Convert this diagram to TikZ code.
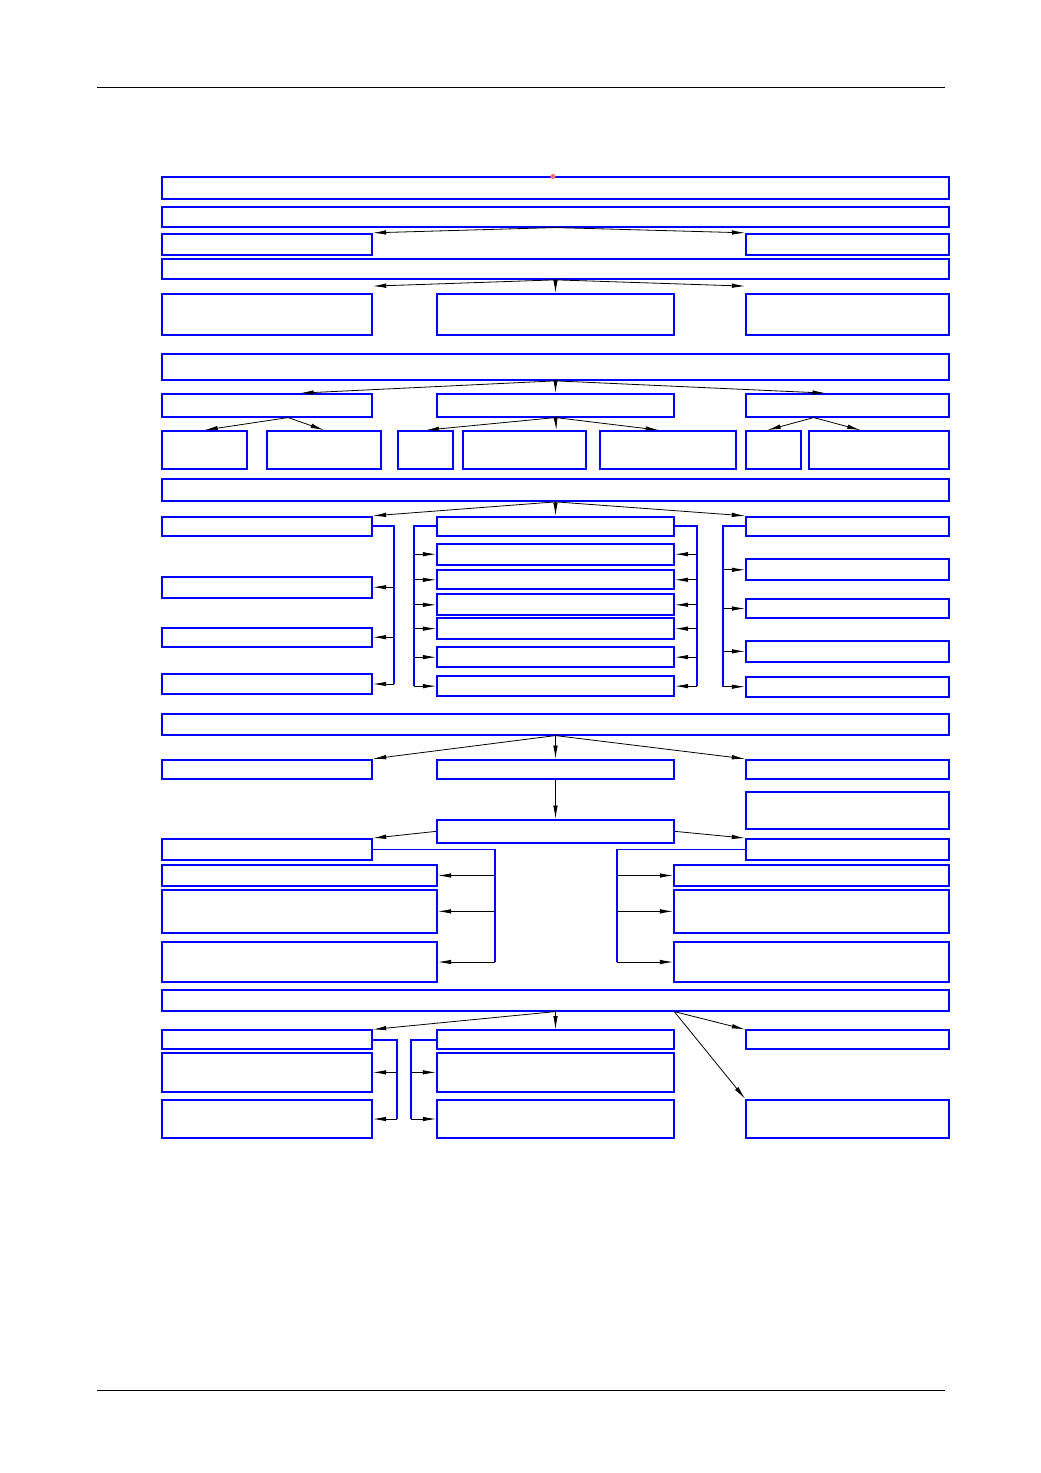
\documentclass[tikz,border=0pt]{standalone}
\usetikzlibrary{arrows.meta,calc,fit}
\begin{document}
\begin{tikzpicture}[x=0.75pt,y=-0.75pt,
  box/.style={draw=blue, line width=1.3pt, inner sep=0pt},
  brk/.style={draw=blue, line width=1.3pt},
  arr/.style={draw=black, line width=0.6pt, -{Latex[length=10pt,width=3.4pt]}},
  rule/.style={draw=black, line width=0.6pt}]
\newcommand\mybox[5]{\node[box, fit={(#2,#3) (#4,#5)}] (#1) {};}
\newcommand\tp[3]{($(#1.north west)!#2!(#1.north east)$)}
\newcommand\bt[3]{($(#1.south west)!#2!(#1.south east)$)}
\useasboundingbox (0,0) rectangle (1040,1473);
% page rules
\coordinate (h1a) at (97,87); \coordinate (h1b) at (945,87);
\coordinate (h2a) at (97,1390); \coordinate (h2b) at (945,1390);
\draw[rule] (h1a) -- (h1b);
\draw[rule] (h2a) -- (h2b);
% boxes
\mybox{r1}{162}{176.7}{949}{198.7}
\mybox{r2}{162}{207}{949}{226.7}
\mybox{r3l}{162}{233.7}{372}{254.7}
\mybox{r3r}{746}{233.7}{949}{254.7}
\mybox{r4}{162}{258.7}{949}{279}
\mybox{r5l}{162}{294}{372}{334.7}
\mybox{r5m}{437}{294}{674}{334.7}
\mybox{r5r}{746}{294}{949}{334.7}
\mybox{r6}{162}{354}{949}{380}
\mybox{r7l}{162}{394}{372}{416.7}
\mybox{r7m}{437}{394}{674}{416.7}
\mybox{r7r}{746}{394}{949}{416.7}
\mybox{r8a}{162}{431}{246.7}{469}
\mybox{r8b}{267.3}{431}{380.7}{469}
\mybox{r8c}{398.3}{431}{453.3}{469}
\mybox{r8d}{463.3}{431}{585.7}{469}
\mybox{r8e}{600.3}{431}{735.7}{469}
\mybox{r8f}{746.3}{431}{800.7}{469}
\mybox{r8g}{809}{431}{949}{469}
\mybox{r9}{162}{479.3}{949}{501}
\mybox{la1}{162}{516.7}{372}{536}
\mybox{la2}{162}{576.7}{372}{597.7}
\mybox{la3}{162}{627.7}{372}{646.7}
\mybox{la4}{162}{674}{372}{694}
\mybox{ma1}{437}{516.7}{674}{536}
\mybox{ma2}{437}{543.7}{674}{564.7}
\mybox{ma3}{437}{570.3}{674}{589.3}
\mybox{ma4}{437}{594.3}{674}{615.3}
\mybox{ma5}{437}{618.3}{674}{639}
\mybox{ma6}{437}{647}{674}{667.3}
\mybox{ma7}{437}{676.3}{674}{696}
\mybox{ra1}{746}{516.7}{949}{536}
\mybox{ra2}{746}{559.3}{949}{580.3}
\mybox{ra3}{746}{599.3}{949}{617.7}
\mybox{ra4}{746}{641}{949}{661.7}
\mybox{ra5}{746}{676.7}{949}{696.7}
\mybox{r11}{162}{714}{949}{734.7}
\mybox{r12l}{162}{759.7}{372}{779}
\mybox{r12m}{437}{759.7}{674}{779}
\mybox{r12r}{746}{759.7}{949}{779}
\mybox{r12x}{746}{791.7}{949}{829}
\mybox{r13m}{437}{819.7}{674}{843}
\mybox{r13l}{162}{839}{372}{860}
\mybox{r13r}{746}{839}{949}{860}
\mybox{lb1}{162}{865.3}{437}{885.7}
\mybox{lb2}{162}{890}{437}{932.7}
\mybox{lb3}{162}{942.3}{437}{981.7}
\mybox{rb1}{674}{865.3}{949}{885.7}
\mybox{rb2}{674}{890}{949}{932.7}
\mybox{rb3}{674}{942.3}{949}{981.7}
\mybox{r15}{162}{989.7}{949}{1010.7}
\mybox{s1l}{162}{1030.3}{372}{1049}
\mybox{s2l}{162}{1053}{372}{1091.7}
\mybox{s3l}{162}{1099.7}{372}{1138.3}
\mybox{s1m}{437}{1030.3}{674}{1049}
\mybox{s2m}{437}{1053}{674}{1091.7}
\mybox{s3m}{437}{1099.7}{674}{1138.3}
\mybox{s1r}{746}{1030.3}{949}{1049}
\mybox{s2r}{746}{1099.7}{949}{1138.3}
% red mark
\coordinate (mk) at (553,176.5);
\fill[red!55] (mk) circle (2.6);
% arrows row 2 -> 3
\draw[arr] (r2.south) -- (r3l.north east);
\draw[arr] (r2.south) -- (r3r.north west);
% row 4 -> 5
\draw[arr] (r4.south) -- ([yshift=5.25pt]r5l.north east);
\draw[arr] (r4.south) -- (r5m.north);
\draw[arr] (r4.south) -- ([yshift=5.25pt]r5r.north west);
% row 6 -> 7
\draw[arr] (r6.south) -- \tp{r7l}{0.657}{};
\draw[arr] (r6.south) -- (r7m.north);
\draw[arr] (r6.south) -- \tp{r7r}{0.394}{};
% row 7 -> 8
\draw[arr] \bt{r7l}{0.6}{} -- (r8a.north);
\draw[arr] \bt{r7l}{0.6}{} -- (r8b.north);
\draw[arr] (r7m.south) -- (r8c.north);
\draw[arr] (r7m.south) -- \tp{r8d}{0.757}{};
\draw[arr] (r7m.south) -- \tp{r8e}{0.434}{};
\draw[arr] \bt{r7r}{0.335}{} -- \tp{r8f}{0.39}{};
\draw[arr] \bt{r7r}{0.335}{} -- \tp{r8g}{0.37}{};
% row 9 -> columns
\draw[arr] (r9.south) -- (la1.north east);
\draw[arr] (r9.south) -- (ma1.north);
\draw[arr] (r9.south) -- (ra1.north west);
% left column bracket
\coordinate (kl) at (394.3,0);
\draw[brk] (la1.east) -| (kl |- la4.east);
\foreach \n in {la2,la3,la4} \draw[arr] (kl |- \n.east) -- (\n.east);
% middle column brackets
\coordinate (kml) at (414.3,0);
\coordinate (kmr) at (696.7,0);
\draw[brk] (ma1.west) -| (kml |- ma7.west);
\draw[brk] (ma1.east) -| (kmr |- ma7.east);
\foreach \n in {ma2,ma3,ma4,ma5,ma6,ma7} {
  \draw[arr] (kml |- \n.west) -- (\n.west);
  \draw[arr] (kmr |- \n.east) -- (\n.east);
}
% right column bracket
\coordinate (kr) at (723,0);
\draw[brk] (ra1.west) -| (kr |- ra5.west);
\foreach \n in {ra2,ra3,ra4,ra5} \draw[arr] (kr |- \n.west) -- (\n.west);
% row 11 -> 12
\draw[arr] (r11.south) -- (r12l.north east);
\draw[arr] (r11.south) -- (r12m.north);
\draw[arr] (r11.south) -- (r12r.north west);
\draw[arr] (r12m.south) -- (r13m.north);
\draw[arr] (r13m.west) -- (r13l.north east);
\draw[arr] (r13m.east) -- (r13r.north west);
% lower brackets
\coordinate (kbl) at (495,0);
\coordinate (kbr) at (616.7,0);
\draw[brk] (r13l.east) -| (kbl |- lb3.east);
\draw[brk] (r13r.west) -| (kbr |- rb3.west);
\foreach \n in {lb1,lb2,lb3} \draw[arr] (kbl |- \n.east) -- (\n.east);
\foreach \n in {rb1,rb2,rb3} \draw[arr] (kbr |- \n.west) -- (\n.west);
% row 15 -> bottom
\draw[arr] (r15.south) -- (s1l.north east);
\draw[arr] (r15.south) -- (s1m.north);
\draw[arr] \bt{r15}{0.6506}{} -- (s1r.north west);
\draw[arr] \bt{r15}{0.6506}{} -- (s2r.north west);
\coordinate (ksl) at (397,0);
\coordinate (ksm) at (411.3,0);
\draw[brk] (s1l.east) -| (ksl |- s3l.east);
\draw[brk] (s1m.west) -| (ksm |- s3m.west);
\foreach \n in {s2l,s3l} \draw[arr] (ksl |- \n.east) -- (\n.east);
\foreach \n in {s2m,s3m} \draw[arr] (ksm |- \n.west) -- (\n.west);
\end{tikzpicture}
\end{document}
